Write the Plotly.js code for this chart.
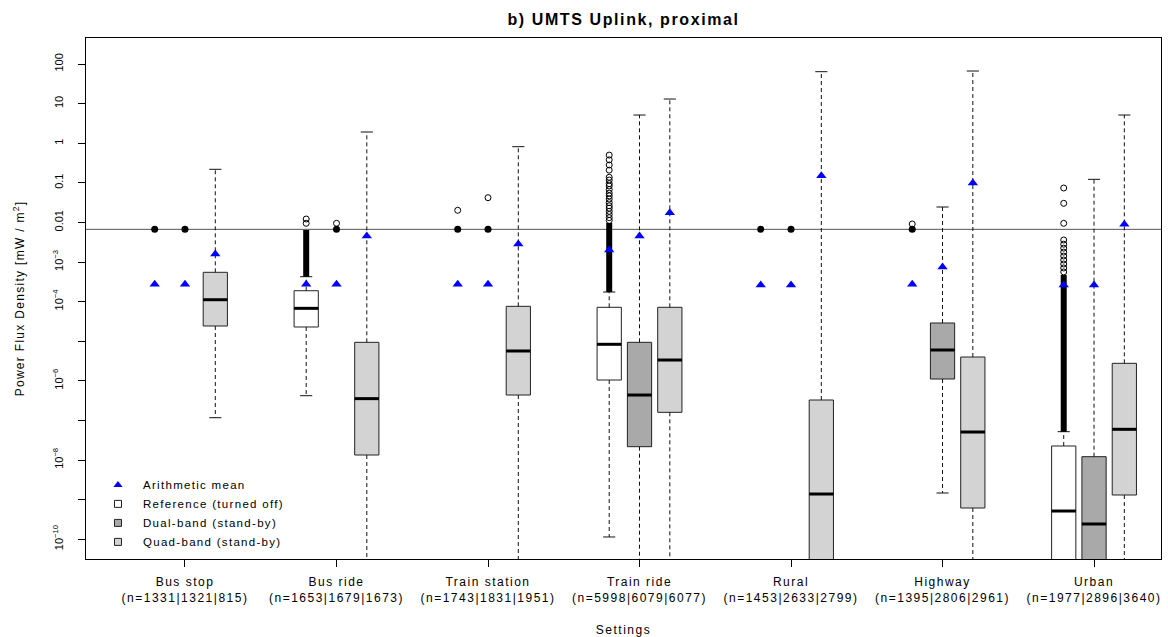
<!DOCTYPE html>
<html><head><meta charset="utf-8">
<script src="https://cdn.plot.ly/plotly-3.0.1.min.js"></script>
<style>
html,body{margin:0;padding:0;background:#fff}
#chart{width:1168px;height:637px}
.xtick text{letter-spacing:1.5px}
.g-xtitle text{letter-spacing:1.5px}
.g-ytitle text{letter-spacing:1.3px}
.legendtext{letter-spacing:1.3px}
.gtitle{letter-spacing:1.6px}
</style>
</head><body><div id="chart"></div>
<script>
// ---------- data (all values are log10 of mW/m^2) ----------
const settings = ['Bus stop', 'Bus ride', 'Train station', 'Train ride', 'Rural', 'Highway', 'Urban'];
const sampleSizes = ['(n=1331|1321|815)', '(n=1653|1679|1673)', '(n=1743|1831|1951)', '(n=5998|6079|6077)',
                     '(n=1453|2633|2799)', '(n=1395|2806|2961)', '(n=1977|2896|3640)'];
const yTickVals = [-10, -8, -6, -4, -3, -2, -1, 0, 1, 2];
const yTickText = ['10<sup>−10</sup>', '10<sup>−8</sup>', '10<sup>−6</sup>', '10<sup>−4</sup>', '10<sup>−3</sup>',
                   '0.01', '0.1', '1', '10', '100'];
const yMinorTickVals = [-9, -7, -5];
const limitLine = -2.175;

// Reference (turned off)
const refLower  = [null, -6.376, null, -9.944, null, null, -11.8];
const refQ1     = [null, -4.641, null, -5.980, null, null, -11.5];
const refMedian = [null, -4.170, null, -5.078, null, null, -9.288];
const refQ3     = [null, -3.725, null, -4.144, null, null, -7.646];
const refUpper  = [null, -3.371, null, -3.758, null, null, -7.285];
const refMean   = [-3.563, -3.563, -3.563, -2.697, -3.580, -3.563, -3.580];
const refPoint  = [-2.175, null, -2.175, null, -2.175, -2.175, null];
const refDenseLo = [null, -3.371, null, -3.758, null, null, -7.285];
const refDenseHi = [null, -2.190, null, -2.015, null, null, -3.330];
const refOutliers = [[], [-1.914, -2.023], [-1.694],
  [-0.30, -0.42, -0.55, -0.68, -0.86, -0.93, -1.02, -1.08, -1.17, -1.26, -1.33, -1.41, -1.50, -1.58, -1.64, -1.72, -1.80, -1.88, -1.95],
  [], [-2.04],
  [-1.131, -1.518, -2.023, -2.444, -2.55, -2.65, -2.75, -2.85, -2.95, -3.05, -3.15, -3.25]];

// Dual-band (stand-by)
const dualLower  = [null, null, null, -11.8, null, -8.833, -11.8];
const dualQ1     = [null, null, null, -7.664, null, -5.955, -11.5];
const dualMedian = [null, null, null, -6.359, null, -5.222, -9.616];
const dualQ3     = [null, null, null, -5.028, null, -4.540, -7.916];
const dualUpper  = [null, null, null, 0.712, null, -1.611, -0.912];
const dualMean   = [-3.563, -3.563, -3.563, -2.343, -3.580, -3.126, -3.580];
const dualPoint  = [-2.175, -2.175, -2.175, null, -2.175, null, null];
const dualDenseLo = [null, null, null, null, null, null, null];
const dualDenseHi = [null, null, null, null, null, null, null];
const dualOutliers = [[], [-2.023], [-1.376], [], [], [], []];

// Quad-band (stand-by)
const quadLower  = [-6.932, -11.8, -11.8, -11.8, -11.8, -11.8, -11.8];
const quadQ1     = [-4.616, -7.874, -6.359, -6.796, -11.5, -9.212, -8.884];
const quadMedian = [-3.952, -6.450, -5.247, -5.475, -8.859, -7.293, -7.225];
const quadQ3     = [-3.260, -5.028, -4.119, -4.144, -6.485, -5.399, -5.559];
const quadUpper  = [-0.659, 0.283, -0.088, 1.116, 1.806, 1.823, 0.712];
const quadMean   = [-2.798, -2.343, -2.545, -1.755, -0.821, -1.005, -2.048];
const quadPoint  = [null, null, null, null, null, null, null];
const quadDenseLo = [null, null, null, null, null, null, null];
const quadDenseHi = [null, null, null, null, null, null, null];
const quadOutliers = [[], [], [], [], [], [], []];

// ---------- build ----------
const P = v => Math.pow(10, v);
const pos = (g, k) => 5 * g + 1 + k;
const series = [
  {name: 'Reference (turned off)', fill: '#ffffff', k: 0, lower: refLower, q1: refQ1, med: refMedian, q3: refQ3, upper: refUpper, mean: refMean, point: refPoint, dLo: refDenseLo, dHi: refDenseHi, out: refOutliers},
  {name: 'Dual-band (stand-by)', fill: '#a9a9a9', k: 1, lower: dualLower, q1: dualQ1, med: dualMedian, q3: dualQ3, upper: dualUpper, mean: dualMean, point: dualPoint, dLo: dualDenseLo, dHi: dualDenseHi, out: dualOutliers},
  {name: 'Quad-band (stand-by)', fill: '#d3d3d3', k: 2, lower: quadLower, q1: quadQ1, med: quadMedian, q3: quadQ3, upper: quadUpper, mean: quadMean, point: quadPoint, dLo: quadDenseLo, dHi: quadDenseHi, out: quadOutliers}
];
const G = settings.map((_, i) => i);
const traces = [];
const wX = [], wY = [], cX = [], cY = [], mX = [], mY = [], dX = [], dY = [], oX = [], oY = [], aX = [], aY = [], pX = [], pY = [];
series.forEach(s => {
  const idx = G.filter(g => s.q1[g] != null);
  traces.push({
    type: 'box', x: idx.map(g => pos(g, s.k)),
    q1: idx.map(g => P(s.q1[g])), median: idx.map(g => P(s.med[g])), q3: idx.map(g => P(s.q3[g])),
    lowerfence: idx.map(g => P(s.q1[g])), upperfence: idx.map(g => P(s.q3[g])),
    width: 0.8, whiskerwidth: 0, boxpoints: false, fillcolor: s.fill,
    line: {color: '#222', width: 1}, showlegend: false, hoverinfo: 'skip'
  });
  idx.forEach(g => {
    const x = pos(g, s.k);
    wX.push(x, x, null, x, x, null);
    wY.push(P(s.q3[g]), P(s.upper[g]), null, P(s.q1[g]), P(s.lower[g]), null);
    cX.push(x - 0.2, x + 0.2, null, x - 0.2, x + 0.2, null);
    cY.push(P(s.upper[g]), P(s.upper[g]), null, P(s.lower[g]), P(s.lower[g]), null);
    mX.push(x - 0.4, x + 0.4, null);
    mY.push(P(s.med[g]), P(s.med[g]), null);
  });
  G.forEach(g => {
    const x = pos(g, s.k);
    if (s.dLo[g] != null) { dX.push(x, x, null); dY.push(P(s.dLo[g]), P(s.dHi[g]), null); }
    s.out[g].forEach(v => { oX.push(x); oY.push(P(v)); });
    if (s.mean[g] != null) { aX.push(x); aY.push(P(s.mean[g])); }
    if (s.point[g] != null) { pX.push(x); pY.push(P(s.point[g])); }
  });
});
const base = {type: 'scatter', showlegend: false, hoverinfo: 'skip'};
traces.push(Object.assign({}, base, {x: wX, y: wY, mode: 'lines', line: {color: '#111', width: 1, dash: '4px,3px'}}));
traces.push(Object.assign({}, base, {x: cX, y: cY, mode: 'lines', line: {color: '#111', width: 1}}));
traces.push(Object.assign({}, base, {x: mX, y: mY, mode: 'lines', line: {color: '#000', width: 3}}));
traces.push(Object.assign({}, base, {x: dX, y: dY, mode: 'lines', line: {color: '#000', width: 6}}));
traces.push(Object.assign({}, base, {x: oX, y: oY, mode: 'markers', marker: {symbol: 'circle-open', size: 6, color: '#000', line: {width: 1}}}));
traces.push(Object.assign({}, base, {x: pX, y: pY, mode: 'markers', marker: {symbol: 'circle', size: 7, color: '#000'}}));
traces.push(Object.assign({}, base, {x: aX, y: aY, mode: 'markers', marker: {symbol: 'triangle-up', size: 9, color: '#0000ff'}}));
// legend entries
traces.push({type: 'scatter', x: [null], y: [null], mode: 'markers', name: 'Arithmetic mean', marker: {symbol: 'triangle-up', size: 8, color: '#0000ff'}});
series.forEach(s => traces.push({type: 'scatter', x: [null], y: [null], mode: 'markers', name: s.name,
  marker: {symbol: 'square', size: 7, color: s.fill, line: {color: '#222', width: 1}}}));

const font = 'Liberation Sans, Arial, sans-serif';
const layout = {
  width: 1168, height: 637,
  margin: {l: 86, r: 7, t: 38, b: 78},
  paper_bgcolor: '#fff', plot_bgcolor: '#fff',
  font: {family: font, size: 12, color: '#000'},
  boxmode: 'overlay',
  title: {text: '<b>b) UMTS Uplink, proximal</b>', x: 0.5, xref: 'paper', y: 0.978, yref: 'container', font: {size: 16, family: font}},
  xaxis: {
    range: [-1.267, 34.21], tickmode: 'array',
    tickvals: G.map(g => pos(g, 1)),
    ticktext: G.map(g => settings[g] + '<br>' + sampleSizes[g]),
    ticks: 'outside', ticklen: 7, tickcolor: '#000', ticklabelstandoff: 5,
    showline: true, mirror: true, linecolor: '#000', linewidth: 1,
    showgrid: false, zeroline: false,
    title: {text: 'Settings', font: {size: 12}, standoff: 22},
    tickfont: {size: 12}
  },
  yaxis: {
    type: 'log', range: [-10.5, 2.657], tickmode: 'array',
    tickvals: yTickVals.map(P), ticktext: yTickText, tickangle: -90,
    ticks: 'outside', ticklen: 7, tickcolor: '#000', ticklabelstandoff: 11,
    minor: {tickmode: 'array', tickvals: yMinorTickVals.map(P), ticks: 'outside', ticklen: 7, tickcolor: '#000', showgrid: false},
    showline: true, mirror: true, linecolor: '#000', linewidth: 1,
    showgrid: false, zeroline: false,
    title: {text: 'Power Flux Density [mW / m<sup>2</sup>]', font: {size: 12}, standoff: 23},
    tickfont: {size: 11}
  },
  shapes: [{type: 'line', xref: 'paper', x0: 0, x1: 1, yref: 'y', y0: P(limitLine), y1: P(limitLine), line: {color: '#555', width: 1}, layer: 'below'}],
  legend: {x: 0.0065, y: 0.005, xanchor: 'left', yanchor: 'bottom', bgcolor: 'rgba(0,0,0,0)', font: {size: 11.5}, tracegroupgap: 0, itemwidth: 40},
  showlegend: true
};
Plotly.newPlot('chart', traces, layout, {staticPlot: true});
</script></body></html>
